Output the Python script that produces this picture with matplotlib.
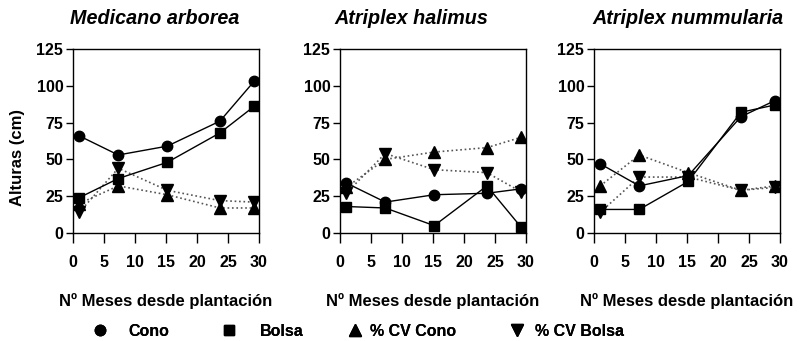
import matplotlib

matplotlib.use("Agg")
import matplotlib.pyplot as plt
from matplotlib.lines import Line2D

plt.rcParams["font.family"] = ["Liberation Sans", "DejaVu Sans"]
plt.rcParams["font.weight"] = "bold"

# months since planting (shared by all panels)
months = [1, 7.3, 15.2, 23.7, 29.2]

species = ["Medicano arborea", "Atriplex halimus", "Atriplex nummularia"]

cono = [
    [66, 53, 59, 76, 103],
    [34, 21, 26, 27, 30],
    [47, 32, 39, 79, 90],
]
bolsa = [
    [24, 37, 48, 68, 86],
    [18, 17, 5, 32, 4],
    [16, 16, 35, 82, 87],
]
cv_cono = [
    [20, 32, 26, 17, 17],
    [31, 50, 55, 58, 65],
    [32, 53, 41, 29, 32],
]
cv_bolsa = [
    [14, 44, 29, 22, 21],
    [27, 54, 43, 41, 28],
    [14, 38, 38, 29, 31],
]

yticks = [0, 25, 50, 75, 100, 125]
xticks = [0, 5, 10, 15, 20, 25, 30]
legend_labels = ["Cono", "Bolsa", "% CV Cono", "% CV Bolsa"]

W, H = 805, 341
fig = plt.figure(figsize=(W / 100, H / 100), dpi=100)

lefts = [73, 340, 594]
title_x = [155, 411, 688]
for i, left in enumerate(lefts):
    ax = fig.add_axes([left / W, (H - 233) / H, 186 / W, 184 / H])
    ax.plot(months, cv_cono[i], ls=":", color="#555555", lw=1.2, marker="^", ms=8,
            mfc="black", mec="black", zorder=2)
    ax.plot(months, cv_bolsa[i], ls=":", color="#555555", lw=1.2, marker="v", ms=8,
            mfc="black", mec="black", zorder=2)
    ax.plot(months, cono[i], ls="-", color="black", lw=1.0, marker="o", ms=7.5, zorder=3)
    ax.plot(months, bolsa[i], ls="-", color="black", lw=1.0, marker="s", ms=6.5, zorder=3)

    ax.set_xlim(0, 30)
    ax.set_ylim(0, 125)
    ax.set_xticks(xticks)
    ax.set_yticks(yticks)
    ax.tick_params(axis="x", length=7, width=1, labelsize=11.5, pad=9)
    ax.tick_params(axis="y", length=5, width=1, labelsize=11.5, pad=2)
    for s in ax.spines.values():
        s.set_linewidth(1.0)
    ax.set_xlabel("Nº Meses desde plantación", fontsize=12, fontweight="bold")
    ax.xaxis.set_label_coords(0.5, -60 / 184)
    if i == 0:
        ax.set_ylabel("Alturas (cm)", fontsize=12, fontweight="bold")
        ax.yaxis.set_label_coords(-48 / 186, 76 / 184)
    fig.text(title_x[i] / W, 1 - 18.5 / H, species[i], ha="center", va="center",
             fontsize=14.2, fontweight="bold", style="italic")

# legend: one entry per marker, spaced as in the original
markers = [("o", 7.5), ("s", 6.5), ("^", 8), ("v", 8)]
marker_x = [100, 229, 355, 517]
text_gap = [1.25, 1.45, 0.45, 0.65]
fs_px = 11.5 * 100 / 72
for (m, ms), lab, mx, gap in zip(markers, legend_labels, marker_x, text_gap):
    h = Line2D([0], [0], ls="none", marker=m, color="black", ms=ms)
    leg = fig.legend([h], [lab], loc="center left",
                     bbox_to_anchor=((mx - fs_px / 2) / W, 1 - 331 / H),
                     frameon=False, fontsize=11.5, handlelength=1.0, handletextpad=gap,
                     borderpad=0, borderaxespad=0)
    fig.add_artist(leg)

fig.savefig("out.png", dpi=100, facecolor="white")
